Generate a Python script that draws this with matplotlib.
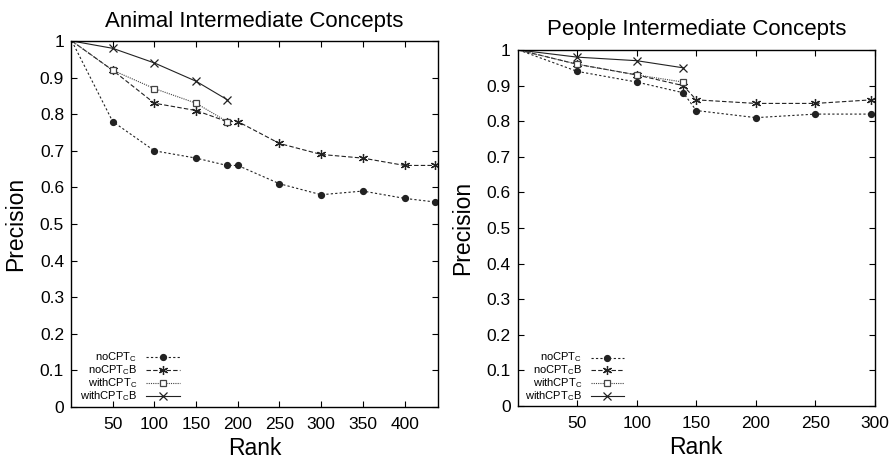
import matplotlib

matplotlib.use("Agg")
import matplotlib.pyplot as plt
from matplotlib.lines import Line2D

plt.rcParams["font.family"] = ["Liberation Sans", "DejaVu Sans"]
plt.rcParams["mathtext.fontset"] = "custom"
plt.rcParams["mathtext.rm"] = "Liberation Sans"
plt.rcParams["mathtext.it"] = "Liberation Sans"

# --- data ---
animal_rank = [1, 50, 100, 150, 187, 200, 250, 300, 350, 400, 437]
animal_nocpt_c = [1.0, 0.78, 0.70, 0.68, 0.66, 0.66, 0.61, 0.58, 0.59, 0.57, 0.56]
animal_nocpt_cb = [1.0, 0.92, 0.83, 0.81, 0.78, 0.78, 0.72, 0.69, 0.68, 0.66, 0.66]
animal_rank_with = [1, 50, 100, 150, 187]
animal_withcpt_c = [1.0, 0.92, 0.87, 0.83, 0.78]
animal_withcpt_cb = [1.0, 0.98, 0.94, 0.89, 0.84]

people_rank = [1, 50, 100, 139, 150, 200, 250, 297]
people_nocpt_c = [1.0, 0.94, 0.91, 0.88, 0.83, 0.81, 0.82, 0.82]
people_nocpt_cb = [1.0, 0.96, 0.93, 0.90, 0.86, 0.85, 0.85, 0.86]
people_rank_with = [1, 50, 100, 139]
people_withcpt_c = [1.0, 0.96, 0.93, 0.91]
people_withcpt_cb = [1.0, 0.98, 0.97, 0.95]

y_ticks = [0, 0.1, 0.2, 0.3, 0.4, 0.5, 0.6, 0.7, 0.8, 0.9, 1.0]
y_tick_labels = ["0", "0.1", "0.2", "0.3", "0.4", "0.5", "0.6", "0.7", "0.8", "0.9", "1"]
animal_x_ticks = [50, 100, 150, 200, 250, 300, 350, 400]
people_x_ticks = [50, 100, 150, 200, 250, 300]

LABELS = [
    r"noCPT$_\mathrm{C}$",
    r"noCPT$_\mathrm{C}$B",
    r"withCPT$_\mathrm{C}$",
    r"withCPT$_\mathrm{C}$B",
]
STYLES = [
    dict(color="#222222", linestyle=(0, (2, 2)), linewidth=0.8, marker="o", markersize=4.2),
    dict(color="#222222", linestyle=(0, (4, 2)), linewidth=0.8, marker=(6, 2, 0), markersize=6.5,
         markeredgewidth=0.9),
    dict(color="#444444", linestyle=(0, (1, 1)), linewidth=0.8, marker="s", markersize=5,
         markerfacecolor="white", markeredgewidth=0.9),
    dict(color="#222222", linestyle="-", linewidth=0.8, marker="x", markersize=5.5,
         markeredgewidth=0.9),
]


def draw_panel(ax, series, title, xmax, xticks, title_pad):
    for (x, y), st in zip(series, STYLES):
        # first point (rank 1) has no marker in the original
        ax.plot(x, y, markevery=slice(1, None), **st)
    ax.set_xlim(0, xmax)
    ax.set_ylim(0, 1)
    ax.set_xticks(xticks)
    ax.set_yticks(y_ticks)
    ax.set_yticklabels(y_tick_labels)
    ax.tick_params(direction="in", length=4, width=0.8, top=True, right=True,
                   labelsize=12.5, pad=5)
    ax.tick_params(axis="x", pad=7)
    for sp in ax.spines.values():
        sp.set_linewidth(1.0)
    ax.set_title(title, fontsize=16, pad=title_pad)
    ax.set_xlabel("Rank", fontsize=16.5, labelpad=4)
    ax.set_ylabel("Precision", fontsize=16.5, labelpad=9)

    # gnuplot-style key: label right-aligned, then line sample
    rows = [0.136, 0.100, 0.065, 0.029]
    for lab, st, yy in zip(LABELS, STYLES, rows):
        ax.text(0.18, yy, lab, transform=ax.transAxes, ha="right", va="center",
                fontsize=8)
        ax.add_line(Line2D([0.204, 0.297], [yy, yy], transform=ax.transAxes,
                           color=st["color"], linestyle=st["linestyle"],
                           linewidth=st["linewidth"]))
        mk = {k: v for k, v in st.items() if k.startswith("marker")}
        ax.add_line(Line2D([0.25], [yy], transform=ax.transAxes, color=st["color"],
                           linestyle="none", **mk))


fig = plt.figure(figsize=(8.95, 4.61), dpi=100)
ax1 = fig.add_axes([0.0793, 0.1171, 0.410, 0.794])
ax2 = fig.add_axes([0.5784, 0.1193, 0.3992, 0.7722])

draw_panel(
    ax1,
    [(animal_rank, animal_nocpt_c), (animal_rank, animal_nocpt_cb),
     (animal_rank_with, animal_withcpt_c), (animal_rank_with, animal_withcpt_cb)],
    "Animal Intermediate Concepts", 440, animal_x_ticks, 10,
)
draw_panel(
    ax2,
    [(people_rank, people_nocpt_c), (people_rank, people_nocpt_cb),
     (people_rank_with, people_withcpt_c), (people_rank_with, people_withcpt_cb)],
    "People Intermediate Concepts", 300, people_x_ticks, 11,
)

fig.savefig("out.png", dpi=100, facecolor="white")
